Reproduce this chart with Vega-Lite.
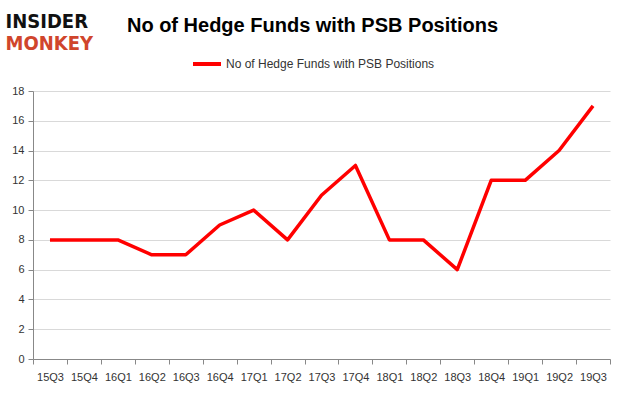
{
  "$schema": "https://vega.github.io/schema/vega-lite/v6.json",
  "width": 577,
  "height": 268,
  "autosize": "none",
  "padding": {"left": 33, "top": 91, "right": 15, "bottom": 36},
  "background": "white",
  "title": {
    "text": "No of Hedge Funds with PSB Positions",
    "font": "Liberation Sans",
    "fontSize": 20,
    "fontWeight": "bold",
    "color": "#000000",
    "anchor": "middle",
    "frame": "group",
    "dx": -9,
    "baseline": "alphabetic",
    "offset": -41
  },
  "data": {
    "values": [
      {"quarter": "15Q3", "funds": 8},
      {"quarter": "15Q4", "funds": 8},
      {"quarter": "16Q1", "funds": 8},
      {"quarter": "16Q2", "funds": 7},
      {"quarter": "16Q3", "funds": 7},
      {"quarter": "16Q4", "funds": 9},
      {"quarter": "17Q1", "funds": 10},
      {"quarter": "17Q2", "funds": 8},
      {"quarter": "17Q3", "funds": 11},
      {"quarter": "17Q4", "funds": 13},
      {"quarter": "18Q1", "funds": 8},
      {"quarter": "18Q2", "funds": 8},
      {"quarter": "18Q3", "funds": 6},
      {"quarter": "18Q4", "funds": 12},
      {"quarter": "19Q1", "funds": 12},
      {"quarter": "19Q2", "funds": 14},
      {"quarter": "19Q3", "funds": 17}
    ]
  },
  "mark": {"type": "line", "strokeWidth": 3.5, "strokeJoin": "round"},
  "encoding": {
    "x": {
      "field": "quarter",
      "type": "ordinal",
      "sort": null,
      "bandPosition": 0.5,
      "scale": {"type": "band", "paddingInner": 0, "paddingOuter": 0},
      "axis": {
        "title": "MONKEY",
        "titleX": -28,
        "titleY": -310,
        "titleAlign": "left",
        "titleBaseline": "alphabetic",
        "titleAngle": 0,
        "titleFont": "DejaVu Sans Condensed, Roboto, sans-serif",
        "titleFontSize": 20,
        "titleFontWeight": "bold",
        "titleColor": "#d0452c",
        "labelAngle": 0,
        "labelFont": "Liberation Sans",
        "labelFontSize": 11,
        "labelColor": "#333333",
        "labelPadding": 7,
        "tickBand": "extent",
        "tickSize": 5,
        "domainColor": "#888888",
        "tickColor": "#888888",
        "grid": false
      }
    },
    "y": {
      "field": "funds",
      "type": "quantitative",
      "scale": {"domain": [0, 18]},
      "axis": {
        "title": "INSIDER",
        "titleX": -28,
        "titleY": -64,
        "titleAlign": "left",
        "titleBaseline": "alphabetic",
        "titleAngle": 0,
        "titleFont": "DejaVu Sans Condensed, Roboto, sans-serif",
        "titleFontSize": 20,
        "titleFontWeight": "bold",
        "titleColor": "#111111",
        "values": [0, 2, 4, 6, 8, 10, 12, 14, 16, 18],
        "labelFont": "Liberation Sans",
        "labelFontSize": 11,
        "labelColor": "#333333",
        "labelPadding": 4,
        "tickSize": 5,
        "domainColor": "#888888",
        "tickColor": "#888888",
        "gridColor": "#d9d9d9"
      }
    },
    "color": {
      "datum": "No of Hedge Funds with PSB Positions",
      "type": "nominal",
      "scale": {"range": ["#ff0000"]},
      "legend": {
        "orient": "none",
        "legendX": 158,
        "legendY": -43,
        "direction": "horizontal",
        "title": null,
        "symbolType": "stroke",
        "symbolSize": 784,
        "symbolStrokeWidth": 4,
        "labelFont": "Liberation Sans",
        "labelFontSize": 12,
        "labelColor": "#333333",
        "labelOffset": 3,
        "labelLimit": 400
      }
    }
  },
  "config": {"view": {"stroke": null}}
}
